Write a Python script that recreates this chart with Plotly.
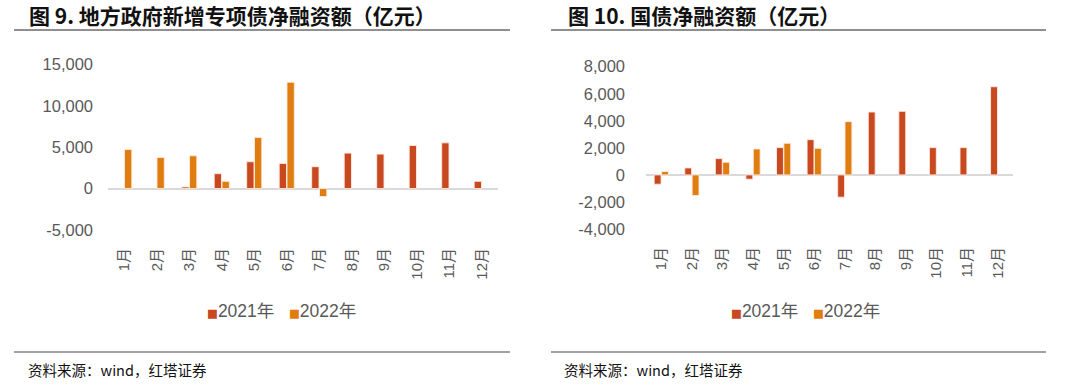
import plotly.graph_objects as go

months = ["1月", "2月", "3月", "4月", "5月", "6月", "7月", "8月", "9月", "10月", "11月", "12月"]

# 图9 地方政府新增专项债净融资额（亿元）
local_2021 = [None, None, 200, 1800, 3240, 3040, 2640, 4280, 4160, 5200, 5520, 880]
local_2022 = [4720, 3760, 3960, 880, 6160, 12840, -960, None, None, None, None, None]

# 图10 国债净融资额（亿元）
gov_2021 = [-690, 517, 1205, -320, 2017, 2608, -1648, 4650, 4700, 2017, 2017, 6520]
gov_2022 = [246, -1525, 935, 1920, 2337, 1968, 3936, None, None, None, None, None]

left_ticks = [-5000, 0, 5000, 10000, 15000]
left_ticktext = ["-5,000", "0", "5,000", "10,000", "15,000"]
right_ticks = [-4000, -2000, 0, 2000, 4000, 6000, 8000]
right_ticktext = ["-4,000", "-2,000", "0", "2,000", "4,000", "6,000", "8,000"]

series_names = ["2021年", "2022年"]
RED = "#C8481F"
ORANGE = "#E07D10"
W, H = 1080, 388
FONT = "Liberation Sans, Arial, Noto Sans CJK SC"
CJK = "Noto Sans CJK SC"
GRAY = "#595959"

fig = go.Figure()
line_style = dict(color="rgba(255,235,225,0.9)", width=1)
fig.add_trace(go.Bar(x=months, y=local_2021, name=series_names[0], marker=dict(color=RED, line=line_style),
                     xaxis="x", yaxis="y"))
fig.add_trace(go.Bar(x=months, y=local_2022, name=series_names[1], marker=dict(color=ORANGE, line=line_style),
                     xaxis="x", yaxis="y"))
fig.add_trace(go.Bar(x=months, y=gov_2021, name=series_names[0], marker=dict(color=RED, line=line_style),
                     xaxis="x2", yaxis="y2"))
fig.add_trace(go.Bar(x=months, y=gov_2022, name=series_names[1], marker=dict(color=ORANGE, line=line_style),
                     xaxis="x2", yaxis="y2"))

def px_x(p):
    return p / W

def px_y(p):
    return 1 - p / H

xcommon = dict(type="category", showline=False, showgrid=False, zeroline=False, ticks="",
               tickangle=-90, tickfont=dict(family=FONT, size=15, color=GRAY), ticklabelstandoff=14)
ycommon = dict(showline=False, showgrid=False, zeroline=True, zerolinecolor="#D9D9D9", zerolinewidth=1.5,
               ticks="", tickfont=dict(family=FONT, size=16.5, color=GRAY))

fig.update_layout(
    width=W, height=H, autosize=False,
    margin=dict(l=0, r=0, t=0, b=0, autoexpand=False),
    paper_bgcolor="white", plot_bgcolor="white",
    barmode="group", bargap=0.52, bargroupgap=0.06,
    showlegend=False,
    xaxis=dict(domain=[px_x(108), px_x(498)], anchor="y", **xcommon),
    yaxis=dict(domain=[px_y(230), px_y(64.3)], anchor="x", range=[-5000, 15000],
               tickvals=left_ticks, ticktext=left_ticktext, ticklabelstandoff=14, **ycommon),
    xaxis2=dict(domain=[px_x(646), px_x(1013)], anchor="y2", **xcommon),
    yaxis2=dict(domain=[px_y(229), px_y(66.7)], anchor="x2", range=[-4000, 8000],
                tickvals=right_ticks, ticktext=right_ticktext, ticklabelstandoff=20, **ycommon),
)

# Legends (as text)
def legend_text():
    sq = "<span style='color:{c};font-size:11.5px;font-family:DejaVu Sans'>■</span>"
    gap = "\u00a0\u00a0\u00a0"
    return sq.format(c=RED) + series_names[0] + gap + sq.format(c=ORANGE) + series_names[1]

for lx in (205, 729):
    fig.add_annotation(text=legend_text(), x=px_x(lx), y=px_y(311), xref="paper", yref="paper",
                       xanchor="left", yanchor="middle", showarrow=False,
                       font=dict(family=FONT, size=17.5, color=GRAY))

# Titles
fig.add_annotation(text="<b>图 9. 地方政府新增专项债净融资额（亿元）</b>", x=px_x(27), y=px_y(15),
                   xref="paper", yref="paper", xanchor="left", yanchor="middle", showarrow=False,
                   font=dict(family=CJK, size=21, color="#111111"))
fig.add_annotation(text="<b>图 10. 国债净融资额（亿元）</b>", x=px_x(566), y=px_y(15),
                   xref="paper", yref="paper", xanchor="left", yanchor="middle", showarrow=False,
                   font=dict(family=CJK, size=21, color="#111111"))
# Footers
for fx in (26, 562):
    fig.add_annotation(text="资料来源：wind，红塔证券", x=px_x(fx), y=px_y(369),
                       xref="paper", yref="paper", xanchor="left", yanchor="middle", showarrow=False,
                       font=dict(family=CJK, size=14.5, color="#111111"))

# Rules
for (x0, x1, yy, col) in [(14, 510, 30, "#222222"), (551, 1046, 30, "#222222"),
                          (14, 510, 352, "#444444"), (551, 1046, 352, "#444444")]:
    fig.add_shape(type="line", xref="paper", yref="paper", x0=px_x(x0), x1=px_x(x1),
                  y0=px_y(yy), y1=px_y(yy), line=dict(color=col, width=1.2))

fig.write_html("out.html", config={"displayModeBar": False},
               post_script="document.body.style.margin='0';")
